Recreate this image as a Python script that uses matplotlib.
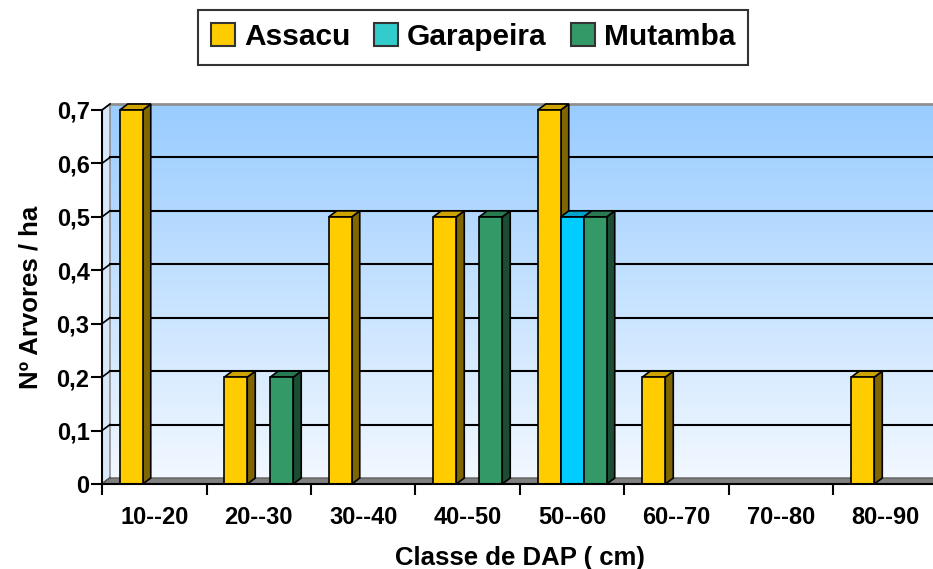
#!/usr/bin/env python3
"""Excel-style 3D column chart: trees per ha by DAP class."""
import numpy as np
import matplotlib
matplotlib.use("Agg")
import matplotlib.pyplot as plt
from matplotlib.patches import Polygon, Rectangle, Patch

plt.rcParams.update({
    "font.family": ["Liberation Sans", "DejaVu Sans"],
    "font.weight": "bold",
})

classes = ["10--20", "20--30", "30--40", "40--50", "50--60", "60--70", "70--80", "80--90"]
species = ["Assacu", "Garapeira", "Mutamba"]
assacu = [0.7, 0.2, 0.5, 0.5, 0.7, 0.2, 0.0, 0.2]
garapeira = [0.0, 0.0, 0.0, 0.0, 0.5, 0.0, 0.0, 0.0]
mutamba = [0.0, 0.2, 0.0, 0.5, 0.5, 0.0, 0.0, 0.0]
yticks = [0, 0.1, 0.2, 0.3, 0.4, 0.5, 0.6, 0.7]

front = ["#FFCC00", "#00CCFF", "#339966"]
side = ["#806600", "#00667F", "#1A4D33"]
top = ["#CCA300", "#00A3CC", "#297A52"]
legend_colors = ["#FFCC00", "#33CCCC", "#339966"]

W, H = 933, 569
fig = plt.figure(figsize=(W / 100, H / 100), dpi=100)
# axes in pixels: left 102, bottom 484, 8 classes x 104.5 px, 0.7 -> 374 px
ax_l, ax_b, ax_w, ax_h = 102, 484, 836, 374
ax = fig.add_axes([ax_l / W, (H - ax_b) / H, ax_w / W, ax_h / H])
ax.patch.set_visible(False)

# depth offsets in data units (8 px right, 6 px up)
dx = 8 / (ax_w / len(classes))
dy = 6 / (ax_h / 0.7)

# back wall gradient
grad = np.linspace(0, 1, 256).reshape(-1, 1)
c_top = np.array([153, 204, 255]) / 255
c_bot = np.array([242, 248, 255]) / 255
img = c_bot + (c_top - c_bot) * grad[..., None]
ax.imshow(img, extent=(dx, len(classes) + dx, dy, 0.7 + dy), origin="lower",
          aspect="auto", zorder=0, clip_on=False)
ax.set_xlim(0, len(classes))
ax.set_ylim(0, 0.7)

# side wall (left)
ax.add_patch(Polygon([(0, 0), (dx, dy), (dx, 0.7 + dy), (0, 0.7)], closed=True,
                     facecolor="#D8E8FA", edgecolor="#909090", lw=1.2,
                     zorder=0.5, clip_on=False))
# top edge of back wall
ax.plot([dx, len(classes) + dx], [0.7 + dy, 0.7 + dy], color="#909090", lw=2,
        zorder=1, clip_on=False)

# gridlines on back wall + diagonals on side wall
for y in yticks[1:-1]:
    ax.plot([dx, len(classes) + dx], [y + dy, y + dy], color="black", lw=1.5,
            zorder=1, clip_on=False)
for y in yticks:
    ax.plot([0, dx], [y, y + dy], color="black", lw=1.2, zorder=1, clip_on=False)

# floor
ax.add_patch(Polygon([(0, 0), (len(classes), 0), (len(classes) + dx, dy), (dx, dy)],
                     closed=True, facecolor="#808080", edgecolor="#606060", lw=1,
                     zorder=1.5, clip_on=False))

# bars
bw = 0.22
series = [assacu, garapeira, mutamba]
for k, vals in enumerate(series):
    for i, v in enumerate(vals):
        if v <= 0:
            continue
        x0 = i + 0.5 + (k - 1) * bw - bw / 2
        x1 = x0 + bw
        z = 3 + k * 0.1
        ax.add_patch(Polygon([(x1, 0), (x1 + dx, dy), (x1 + dx, v + dy), (x1, v)],
                             closed=True, facecolor=side[k], edgecolor="black",
                             lw=1.2, zorder=z, clip_on=False))
        ax.add_patch(Polygon([(x0, v), (x0 + dx, v + dy), (x1 + dx, v + dy), (x1, v)],
                             closed=True, facecolor=top[k], edgecolor="black",
                             lw=1.2, zorder=z, clip_on=False))
        ax.add_patch(Rectangle((x0, 0), bw, v, facecolor=front[k], edgecolor="black",
                               lw=1.2, zorder=z + 0.05, clip_on=False))

# axes
for s in ["top", "right"]:
    ax.spines[s].set_visible(False)
for s in ["left", "bottom"]:
    ax.spines[s].set_linewidth(1.5)
    ax.spines[s].set_zorder(5)
ax.set_yticks(yticks)
ax.set_yticklabels([f"{t:.1f}".replace(".", ",") if t else "0" for t in yticks],
                   fontsize=17, fontweight="bold")
ax.tick_params(axis="y", length=8, width=1.5, pad=1)
ax.set_xticks(np.arange(len(classes)) + 0.5)
ax.set_xticklabels(classes, fontsize=17, fontweight="bold")
ax.set_xticks(np.arange(len(classes) + 1), minor=True)
ax.tick_params(axis="x", which="major", length=0, pad=16)
ax.tick_params(axis="x", which="minor", length=8, width=1.5)

ax.set_ylabel("Nº Arvores / ha", fontsize=18.5, fontweight="bold", labelpad=10)
ax.set_xlabel("Classe de DAP ( cm)", fontsize=18.5, fontweight="bold", labelpad=12)

handles = [Patch(facecolor=legend_colors[k], edgecolor="#333333", lw=1.5) for k in range(3)]
leg = fig.legend(handles, species, loc="upper center", bbox_to_anchor=(0.507, 0.983),
                 ncol=3, frameon=True, fancybox=False, edgecolor="black",
                 prop={"size": 21.5, "weight": "bold"}, handlelength=0.8,
                 handleheight=0.8, handletextpad=0.3, columnspacing=0.8,
                 borderpad=0.45, borderaxespad=0)
leg.get_frame().set_linewidth(1.5)

fig.savefig("out.png", dpi=100)
